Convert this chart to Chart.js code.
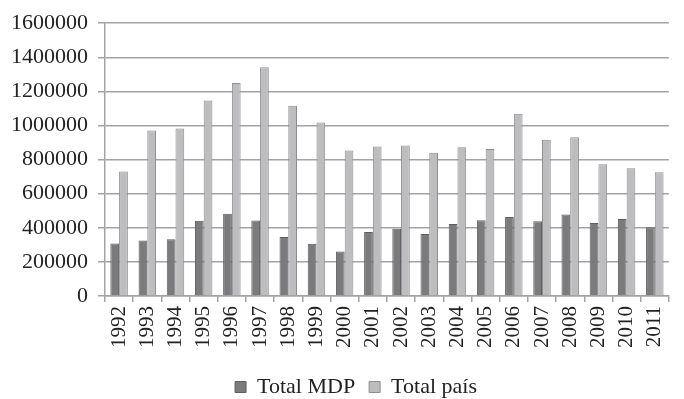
<!DOCTYPE html>
<html>
<head>
<meta charset="utf-8">
<script src="https://cdn.jsdelivr.net/npm/chart.js@4.4.1/dist/chart.umd.min.js"></script>
<style>
  html, body { margin: 0; padding: 0; background: #ffffff; }
  #wrap { width: 684px; height: 399px; position: relative; }
</style>
</head>
<body>
<div id="wrap"><canvas id="chart"></canvas></div>
<script>
// Years on the category axis
const years = ['1992','1993','1994','1995','1996','1997','1998','1999','2000','2001',
               '2002','2003','2004','2005','2006','2007','2008','2009','2010','2011'];

// Totals for MDP
const totalMDP = [308000, 325000, 333000, 441000, 482000, 443000, 346000, 306000, 261000, 375000,
                  395000, 364000, 422000, 445000, 463000, 438000, 478000, 428000, 451000, 403000];

// Totals for the whole country
const totalPais = [730000, 970000, 982000, 1146000, 1249000, 1342000, 1116000, 1017000, 854000, 877000,
                   883000, 840000, 872000, 862000, 1069000, 916000, 931000, 773000, 750000, 726000];

// Value axis ticks
const yTicks = [0, 200000, 400000, 600000, 800000, 1000000, 1200000, 1400000, 1600000];

const serif = '"Liberation Serif", "Times New Roman", serif';
const gridGray = '#a3a3a3';

Chart.defaults.font.family = serif;
Chart.defaults.color = '#222222';

// Move the legend row after layout
const legendShift = {
  id: 'legendShift',
  afterLayout(chart, args, opts) {
    const lg = chart.legend;
    if (lg) {
      lg.left += opts.dx; lg.right += opts.dx;
      lg.top += opts.dy; lg.bottom += opts.dy;
    }
  }
};

new Chart(document.getElementById('chart'), {
  type: 'bar',
  data: {
    labels: years,
    datasets: [
      {
        label: 'Total MDP',
        data: totalMDP,
        backgroundColor: '#7b7b7d',
        borderColor: '#5e5e60',
        borderWidth: 1,
        categoryPercentage: 0.62,
        barPercentage: 1.0
      },
      {
        label: 'Total país',
        data: totalPais,
        backgroundColor: '#bdbdbf',
        borderColor: '#8d8d8f',
        borderWidth: 1,
        categoryPercentage: 0.62,
        barPercentage: 1.0
      }
    ]
  },
  options: {
    responsive: true,
    maintainAspectRatio: false,
    animation: false,
    layout: { padding: { top: 18, right: 0, bottom: 0, left: 0 } },
    scales: {
      x: {
        offset: true,
        grid: {
          offset: true,
          drawOnChartArea: false,
          drawTicks: true,
          tickLength: 6,
          color: gridGray,
          lineWidth: 1.5
        },
        border: { display: true, color: gridGray, width: 1.5 },
        ticks: {
          minRotation: 90,
          maxRotation: 90,
          autoSkip: false,
          padding: 4,
          font: { size: 21 },
          color: '#222222'
        },
        afterFit(scale) { scale.height = 57; }
      },
      y: {
        min: 0,
        max: 1600000,
        afterBuildTicks(scale) { scale.ticks = yTicks.map(v => ({ value: v })); },
        grid: {
          color: gridGray,
          lineWidth: 1.5,
          tickLength: 7
        },
        border: { display: true, color: gridGray, width: 1.5 },
        ticks: {
          padding: 10,
          font: { size: 22 },
          color: '#222222',
          callback: v => String(v)
        },
        afterFit(scale) { scale.width = 105; }
      }
    },
    plugins: {
      legendShift: { dx: 14, dy: 9 },
      tooltip: { enabled: false },
      legend: {
        position: 'bottom',
        labels: {
          boxWidth: 11,
          boxHeight: 11,
          padding: 14,
          font: { size: 22 },
          color: '#222222'
        }
      }
    }
  },
  plugins: [legendShift]
});
</script>
</body>
</html>
